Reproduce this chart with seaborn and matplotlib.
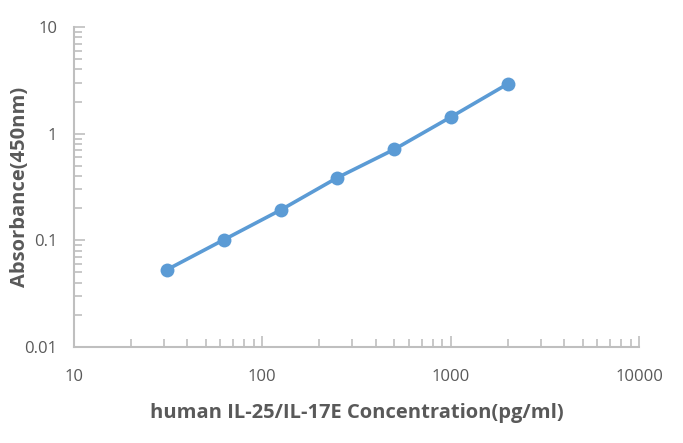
import numpy as np
import pandas as pd
import matplotlib
matplotlib.use("Agg")
import matplotlib.pyplot as plt
import seaborn as sns
from matplotlib.ticker import LogLocator, FixedFormatter, NullFormatter

# Standard curve data
concentration = [31.25, 62.5, 125, 250, 500, 1000, 2000]
absorbance = [0.053, 0.101, 0.192, 0.386, 0.71, 1.43, 2.92]
x_ticks = [10, 100, 1000, 10000]
x_labels = ["10", "100", "1000", "10000"]
y_ticks = [0.01, 0.1, 1, 10]
y_labels = ["0.01", "0.1", "1", "10"]

df = pd.DataFrame({"conc": concentration, "od": absorbance})

sns.set_style("white")
plt.rcParams['font.family'] = ['Open Sans', 'DejaVu Sans']

gray = "#595959"
axis_gray = "#BFBFBF"

fig = plt.figure(figsize=(6.83, 4.43), dpi=100)
ax = fig.add_axes([0.108, 0.217, 0.828, 0.722])

sns.lineplot(data=df, x="conc", y="od", marker="o", color="#5B9BD5",
             linewidth=2.6, markersize=10, markeredgewidth=0, ax=ax)

ax.set_xscale("log")
ax.set_yscale("log")
ax.set_xlim(10, 10000)
ax.set_ylim(0.01, 10)

ax.set_xticks(x_ticks)
ax.xaxis.set_major_formatter(FixedFormatter(x_labels))
ax.set_yticks(y_ticks)
ax.yaxis.set_major_formatter(FixedFormatter(y_labels))
ax.xaxis.set_minor_locator(LogLocator(base=10, subs=np.arange(2, 10)))
ax.yaxis.set_minor_locator(LogLocator(base=10, subs=np.arange(2, 10)))
ax.xaxis.set_minor_formatter(NullFormatter())
ax.yaxis.set_minor_formatter(NullFormatter())

ax.tick_params(axis="both", which="both", bottom=True, left=True)
ax.tick_params(axis="both", which="major", direction="in", length=8, width=1.2,
               color=axis_gray, labelcolor=gray, labelsize=12)
ax.tick_params(axis="both", which="minor", direction="in", length=6, width=1.2,
               color=axis_gray)
ax.tick_params(axis="x", which="major", pad=16)
ax.tick_params(axis="y", which="major", pad=12)

for side in ["top", "right"]:
    ax.spines[side].set_visible(False)
for side in ["left", "bottom"]:
    ax.spines[side].set_color(axis_gray)
    ax.spines[side].set_linewidth(1.5)

ax.set_xlabel("human IL-25/IL-17E Concentration(pg/ml)", fontsize=14.5,
              fontweight="bold", color=gray)
ax.set_ylabel("Absorbance(450nm)", fontsize=14.5, fontweight="bold",
              color=gray)
ax.xaxis.set_label_coords(0.5, -0.175)
ax.yaxis.set_label_coords(-0.078, 0.5)

fig.savefig("out.png", dpi=100)
